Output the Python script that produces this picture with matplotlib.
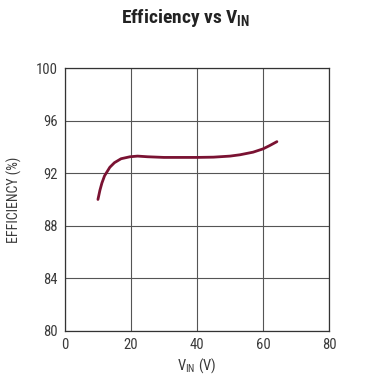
import matplotlib.pyplot as plt
from matplotlib import font_manager

names = {f.name for f in font_manager.fontManager.ttflist}
cond = [n for n in ['Liberation Sans Narrow', 'DejaVu Sans Condensed', 'Roboto Condensed'] if n in names]
plt.rcParams['font.family'] = cond + ['DejaVu Sans']
plt.rcParams['mathtext.fontset'] = 'custom'
plt.rcParams['mathtext.rm'] = (cond + ['DejaVu Sans'])[0]

# Efficiency curve
vin = [10, 10.6, 11.2, 12, 13.6, 15, 17, 19.7, 22, 25, 30, 35, 40, 45, 50, 53, 57, 60, 62, 64.2]
eff = [90.0, 90.7, 91.25, 91.8, 92.45, 92.8, 93.1, 93.25, 93.3, 93.25, 93.2, 93.2, 93.2, 93.22, 93.3, 93.4, 93.6, 93.85, 94.1, 94.4]

xticks = [0, 20, 40, 60, 80]
yticks = [80, 84, 88, 92, 96, 100]

fig = plt.figure(figsize=(3.71, 3.76), dpi=100)
ax = fig.add_axes([0.175, 0.12, 0.712, 0.699])

ax.plot(vin, eff, color='#7a1232', lw=2.0, solid_capstyle='round')

ax.set_xlim(0, 80)
ax.set_ylim(80, 100)
ax.set_xticks(xticks)
ax.set_yticks(yticks)
ax.grid(True, color='#555555', lw=0.8)
ax.tick_params(length=0, labelsize=10.5, colors='#3a3a3a', pad=5)
for s in ax.spines.values():
    s.set_color('#333333')
    s.set_linewidth(0.9)

ax.set_xlabel('V$_\\mathregular{IN}$ (V)', fontsize=10.5, color='#3a3a3a', labelpad=3)
ax.set_ylabel('EFFICIENCY (%)', fontsize=10, color='#3a3a3a', labelpad=10)

fig.text(0.5, 0.952, 'Efficiency vs V$_\\mathregular{IN}$', ha='center', va='center',
         fontsize=14, fontweight='bold', color='#222222')

fig.savefig('out.png', dpi=100)
